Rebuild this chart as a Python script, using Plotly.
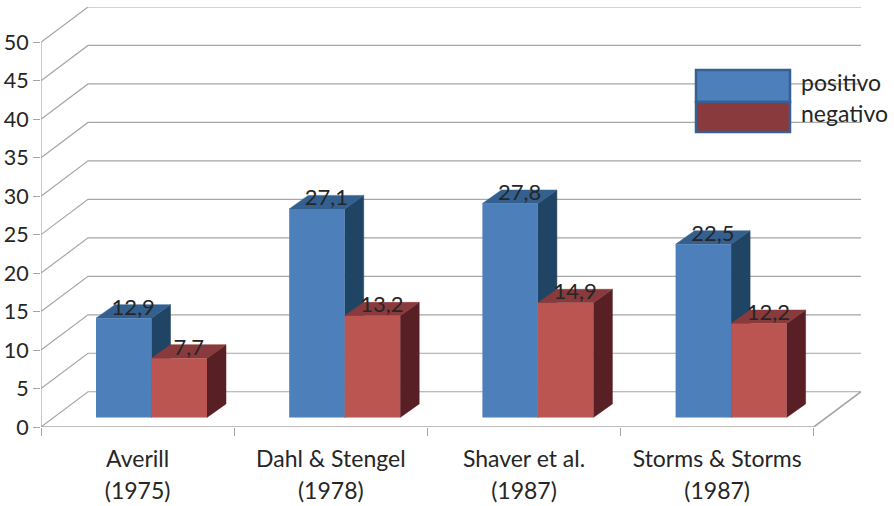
import plotly.graph_objects as go

studies = ["Averill", "Dahl & Stengel", "Shaver et al.", "Storms & Storms"]
years = ["(1975)", "(1978)", "(1987)", "(1987)"]
positivo = [12.9, 27.1, 27.8, 22.5]
negativo = [7.7, 13.2, 14.9, 12.2]
y_ticks = [0, 5, 10, 15, 20, 25, 30, 35, 40, 45, 50]

# Pixel calibration of the oblique projection
W, H = 894, 506
L, R, T, B = 41.0, 861.0, 7.0, 427.3
X_UNIT = 193.2
Y_UNIT = 7.7
WALL_DX = 47 / X_UNIT
WALL_DY = 35.3 / Y_UNIT
BAR_DX = 19 / X_UNIT
BAR_DY = 13.5 / Y_UNIT
BASE = 9.6 / Y_UNIT
BAR_W = 55.5 / X_UNIT
BAR_START = 55 / X_UNIT
X_MAX = (R - L) / X_UNIT
Y_MAX = (B - T) / Y_UNIT
N = len(studies)

GRID = "#a6a6a6"
TXT = "#262626"
FONT = "Lato, Carlito, Calibri, sans-serif"
FS = 23
FS_NUM = 22

C_POS = dict(front="#4d7fbb", side="#204463", top="#34608f")
C_NEG = dict(front="#bb5552", side="#581f25", top="#893a3d")


def line_trace(xs, ys, color=GRID, width=1.2, z=0):
    return go.Scatter(x=xs, y=ys, mode="lines", line=dict(color=color, width=width),
                      hoverinfo="skip", showlegend=False, cliponaxis=False, zorder=z)


def poly(xs, ys, color, z):
    return go.Scatter(x=xs, y=ys, mode="lines", fill="toself", fillcolor=color,
                      line=dict(color=color, width=0.5), hoverinfo="skip",
                      showlegend=False, cliponaxis=False, zorder=z)


def faces(values, start):
    side_x, side_y, top_x, top_y = [], [], [], []
    for i, v in enumerate(values):
        x0 = i + start
        x1 = x0 + BAR_W
        y0 = BASE
        y1 = BASE + v
        side_x += [x1, x1 + BAR_DX, x1 + BAR_DX, x1, x1, None]
        side_y += [y0, y0 + BAR_DY, y1 + BAR_DY, y1, y0, None]
        top_x += [x0, x1, x1 + BAR_DX, x0 + BAR_DX, x0, None]
        top_y += [y1, y1, y1 + BAR_DY, y1 + BAR_DY, y1, None]
    return side_x, side_y, top_x, top_y


fig = go.Figure()

# Back wall, side wall and floor
for v in y_ticks:
    fig.add_trace(line_trace([0, WALL_DX, X_MAX], [v, v + WALL_DY, v + WALL_DY]))
fig.add_trace(line_trace([0, 0], [0, 50]))
fig.add_trace(line_trace([0, N, X_MAX], [0, 0, WALL_DY], width=1.6))

# Bars
for values, start, colors, name, z in [
    (positivo, BAR_START, C_POS, "positivo", 1),
    (negativo, BAR_START + BAR_W, C_NEG, "negativo", 2),
]:
    sx, sy, tx, ty = faces(values, start)
    fig.add_trace(poly(sx, sy, colors["side"], z))
    fig.add_trace(poly(tx, ty, colors["top"], z))
    fig.add_trace(go.Bar(
        x=[i + start + BAR_W / 2 for i in range(N)], y=values, base=[BASE] * N,
        width=BAR_W, name=name, marker=dict(color=colors["front"], line=dict(width=0)),
        showlegend=False, hoverinfo="skip", zorder=3))

# Value labels
for values, start in [(positivo, BAR_START), (negativo, BAR_START + BAR_W)]:
    fig.add_trace(go.Scatter(
        x=[i + start + BAR_W / 2 + BAR_DX / 2 for i in range(N)],
        y=[v + BASE + BAR_DY / 2 + 0.3 for v in values],
        text=[f"{v:.1f}".replace(".", ",") for v in values],
        mode="text", textposition="middle center",
        textfont=dict(family=FONT, size=FS_NUM, color=TXT),
        hoverinfo="skip", showlegend=False, cliponaxis=False, zorder=4))


def px(x):
    return (x - L) / (R - L)


def py(y):
    return (B - y) / (B - T)


shapes = [
    dict(type="rect", xref="paper", yref="paper", x0=px(696), x1=px(790), y0=py(102), y1=py(70),
         fillcolor=C_POS["front"], line=dict(color="#366092", width=2.5)),
    dict(type="rect", xref="paper", yref="paper", x0=px(696), x1=px(790), y0=py(132), y1=py(102),
         fillcolor=C_NEG["top"], line=dict(color="#366092", width=2.5)),
]
annotations = [
    dict(xref="paper", yref="paper", x=px(799), y=py(82), text="positivo", showarrow=False,
         xanchor="left", yanchor="middle", font=dict(family=FONT, size=FS, color=TXT)),
    dict(xref="paper", yref="paper", x=px(799), y=py(113), text="negativo", showarrow=False,
         xanchor="left", yanchor="middle", font=dict(family=FONT, size=FS, color=TXT)),
]

tick_text = [f'<span style="font-size:{FS}px">{s}</span><br><span style="font-size:{FS}px">{y}</span>'
             for s, y in zip(studies, years)]

fig.update_layout(
    width=W, height=H, autosize=False,
    margin=dict(l=L, r=W - R, t=T, b=H - B, pad=0, autoexpand=False),
    paper_bgcolor="white", plot_bgcolor="white",
    barmode="overlay", showlegend=False,
    shapes=shapes, annotations=annotations,
    font=dict(family=FONT, size=FS, color=TXT),
    xaxis=dict(range=[0, X_MAX], showgrid=False, zeroline=False, showline=False, automargin=False,
               tickmode="array", tickvals=[i + 0.5 for i in range(N)], ticktext=tick_text,
               ticks="", tickfont=dict(family=FONT, size=24.6, color=TXT), ticklabelstandoff=14,
               minor=dict(tickmode="array", tickvals=list(range(N + 1)), ticks="outside",
                          ticklen=8, tickcolor=GRID, tickwidth=1.2, showgrid=False)),
    yaxis=dict(range=[0, Y_MAX], showgrid=False, zeroline=False, showline=False, automargin=False,
               tickmode="array", tickvals=y_ticks, ticks="outside", ticklen=7,
               tickcolor=GRID, tickwidth=1.2, tickfont=dict(family=FONT, size=FS_NUM - 0.5, color=TXT)),
)

fig.write_html("out.html", config={"displayModeBar": False},
               post_script="document.body.style.margin='0';")
